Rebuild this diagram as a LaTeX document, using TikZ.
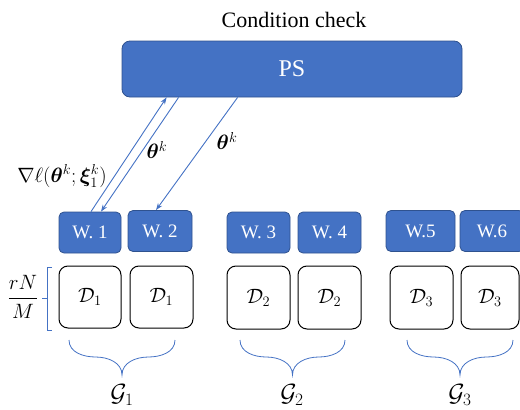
\documentclass[tikz,border=0pt]{standalone}
\usepackage{amsmath,bm}
\usepackage{fontspec}
\setmainfont{Liberation Serif}
\usetikzlibrary{arrows.meta,calc}
\definecolor{pblue}{HTML}{4472C4}
\definecolor{pedge}{HTML}{2F528F}
\tikzset{
  wbox/.style={draw=pedge,fill=pblue,rounded corners=5pt,line width=0.8pt,text=white,
    minimum width=62pt,minimum height=41pt,inner sep=0pt,font=\fontsize{19}{22}\selectfont},
  dbox/.style={draw=black,rounded corners=9pt,line width=1pt,minimum width=62pt,minimum height=62pt,
    inner sep=0pt,font=\fontsize{22}{26}\selectfont},
  conn/.style={draw=pblue,line width=0.9pt,-{Stealth[length=7pt,width=5pt]}},
  brc/.style={draw=pblue,line width=0.8pt},
  lbl/.style={font=\fontsize{22}{26}\selectfont,inner sep=0pt},
  glbl/.style={font=\fontsize{23}{27}\selectfont}
}
\begin{document}
\begin{tikzpicture}[x=1pt,y=-1pt]
\useasboundingbox (0,0) rectangle (520,410);
\node[font=\fontsize{22}{26}\selectfont] (cc) at (294,20) {Condition check};
\node[draw=pedge,fill=pblue,rounded corners=8pt,line width=0.8pt,text=white,
  minimum width=340pt,minimum height=56pt,font=\fontsize{24}{28}\selectfont] (ps) at (292,69) {PS};
% workers
\node[wbox] (w1) at (90,232.5) {W. 1};
\node[wbox,minimum width=64pt] (w2) at (160,231) {W. 2};
\node[wbox,minimum width=63pt] (w3) at (258.5,232.5) {W. 3};
\node[wbox,minimum width=63pt] (w4) at (329.5,232.5) {W. 4};
\node[wbox,minimum width=69pt] (w5) at (420.5,231) {W.5};
\node[wbox,minimum width=64pt] (w6) at (492,231) {W.6};
% data
\node[dbox] (d1) at (90,297) {$\mathcal{D}_1$};
\node[dbox,minimum width=63pt] (d2) at (161.5,297) {$\mathcal{D}_1$};
\node[dbox,minimum width=63pt,minimum height=63pt] (d3) at (258.5,297.5) {$\mathcal{D}_2$};
\node[dbox,minimum width=63pt,minimum height=63pt] (d4) at (329.5,297.5) {$\mathcal{D}_2$};
\node[dbox,minimum width=63pt,minimum height=63pt] (d5) at (421.5,297.5) {$\mathcal{D}_3$};
\node[dbox,minimum width=58pt,minimum height=63pt] (d6) at (490,297.5) {$\mathcal{D}_3$};
% connectors
\draw[conn] ([xshift=1pt]w1.north) -- ([xshift=45pt]ps.south west);
\draw[conn] ([xshift=57pt]ps.south west) -- ([xshift=11pt]w1.north);
\draw[conn] ([xshift=116pt]ps.south west) -- ([xshift=-4pt]w2.north);
% labels
\node[lbl] (g) at (62,176) {$\nabla\ell(\bm{\theta}^k;\bm{\xi}_1^k)$};
\node[lbl] (t1) at (157,150) {$\bm{\theta}^k$};
\node[lbl] (t2) at (227,141) {$\bm{\theta}^k$};
% rN/M bracket
\node[font=\fontsize{21}{25}\selectfont] (rn) at (23,297) {$\dfrac{rN}{M}$};
\draw[brc] (52,267) -- (47,267) -- (47,330) -- (52,330);
\draw[brc] (47,298.5) -- (42,298.5);
% braces
\foreach \a/\b in {69/175,240/345,407/513}{
  \pgfmathsetmacro{\m}{(\a+\b)/2}
  \pgfmathsetmacro{\p}{(\a+\m)/2}
  \pgfmathsetmacro{\q}{(\m+\b)/2}
  \draw[brc] (\a,340) to[out=-90,in=180] (\p,357) to[out=0,in=90] (\m,375)
             to[out=90,in=180] (\q,357) to[out=0,in=-90] (\b,340);
}
\node[glbl] (G1) at (122,395) {$\mathcal{G}_1$};
\node[glbl] (G2) at (292,395) {$\mathcal{G}_2$};
\node[glbl] (G3) at (460,395) {$\mathcal{G}_3$};
\end{tikzpicture}
\end{document}
